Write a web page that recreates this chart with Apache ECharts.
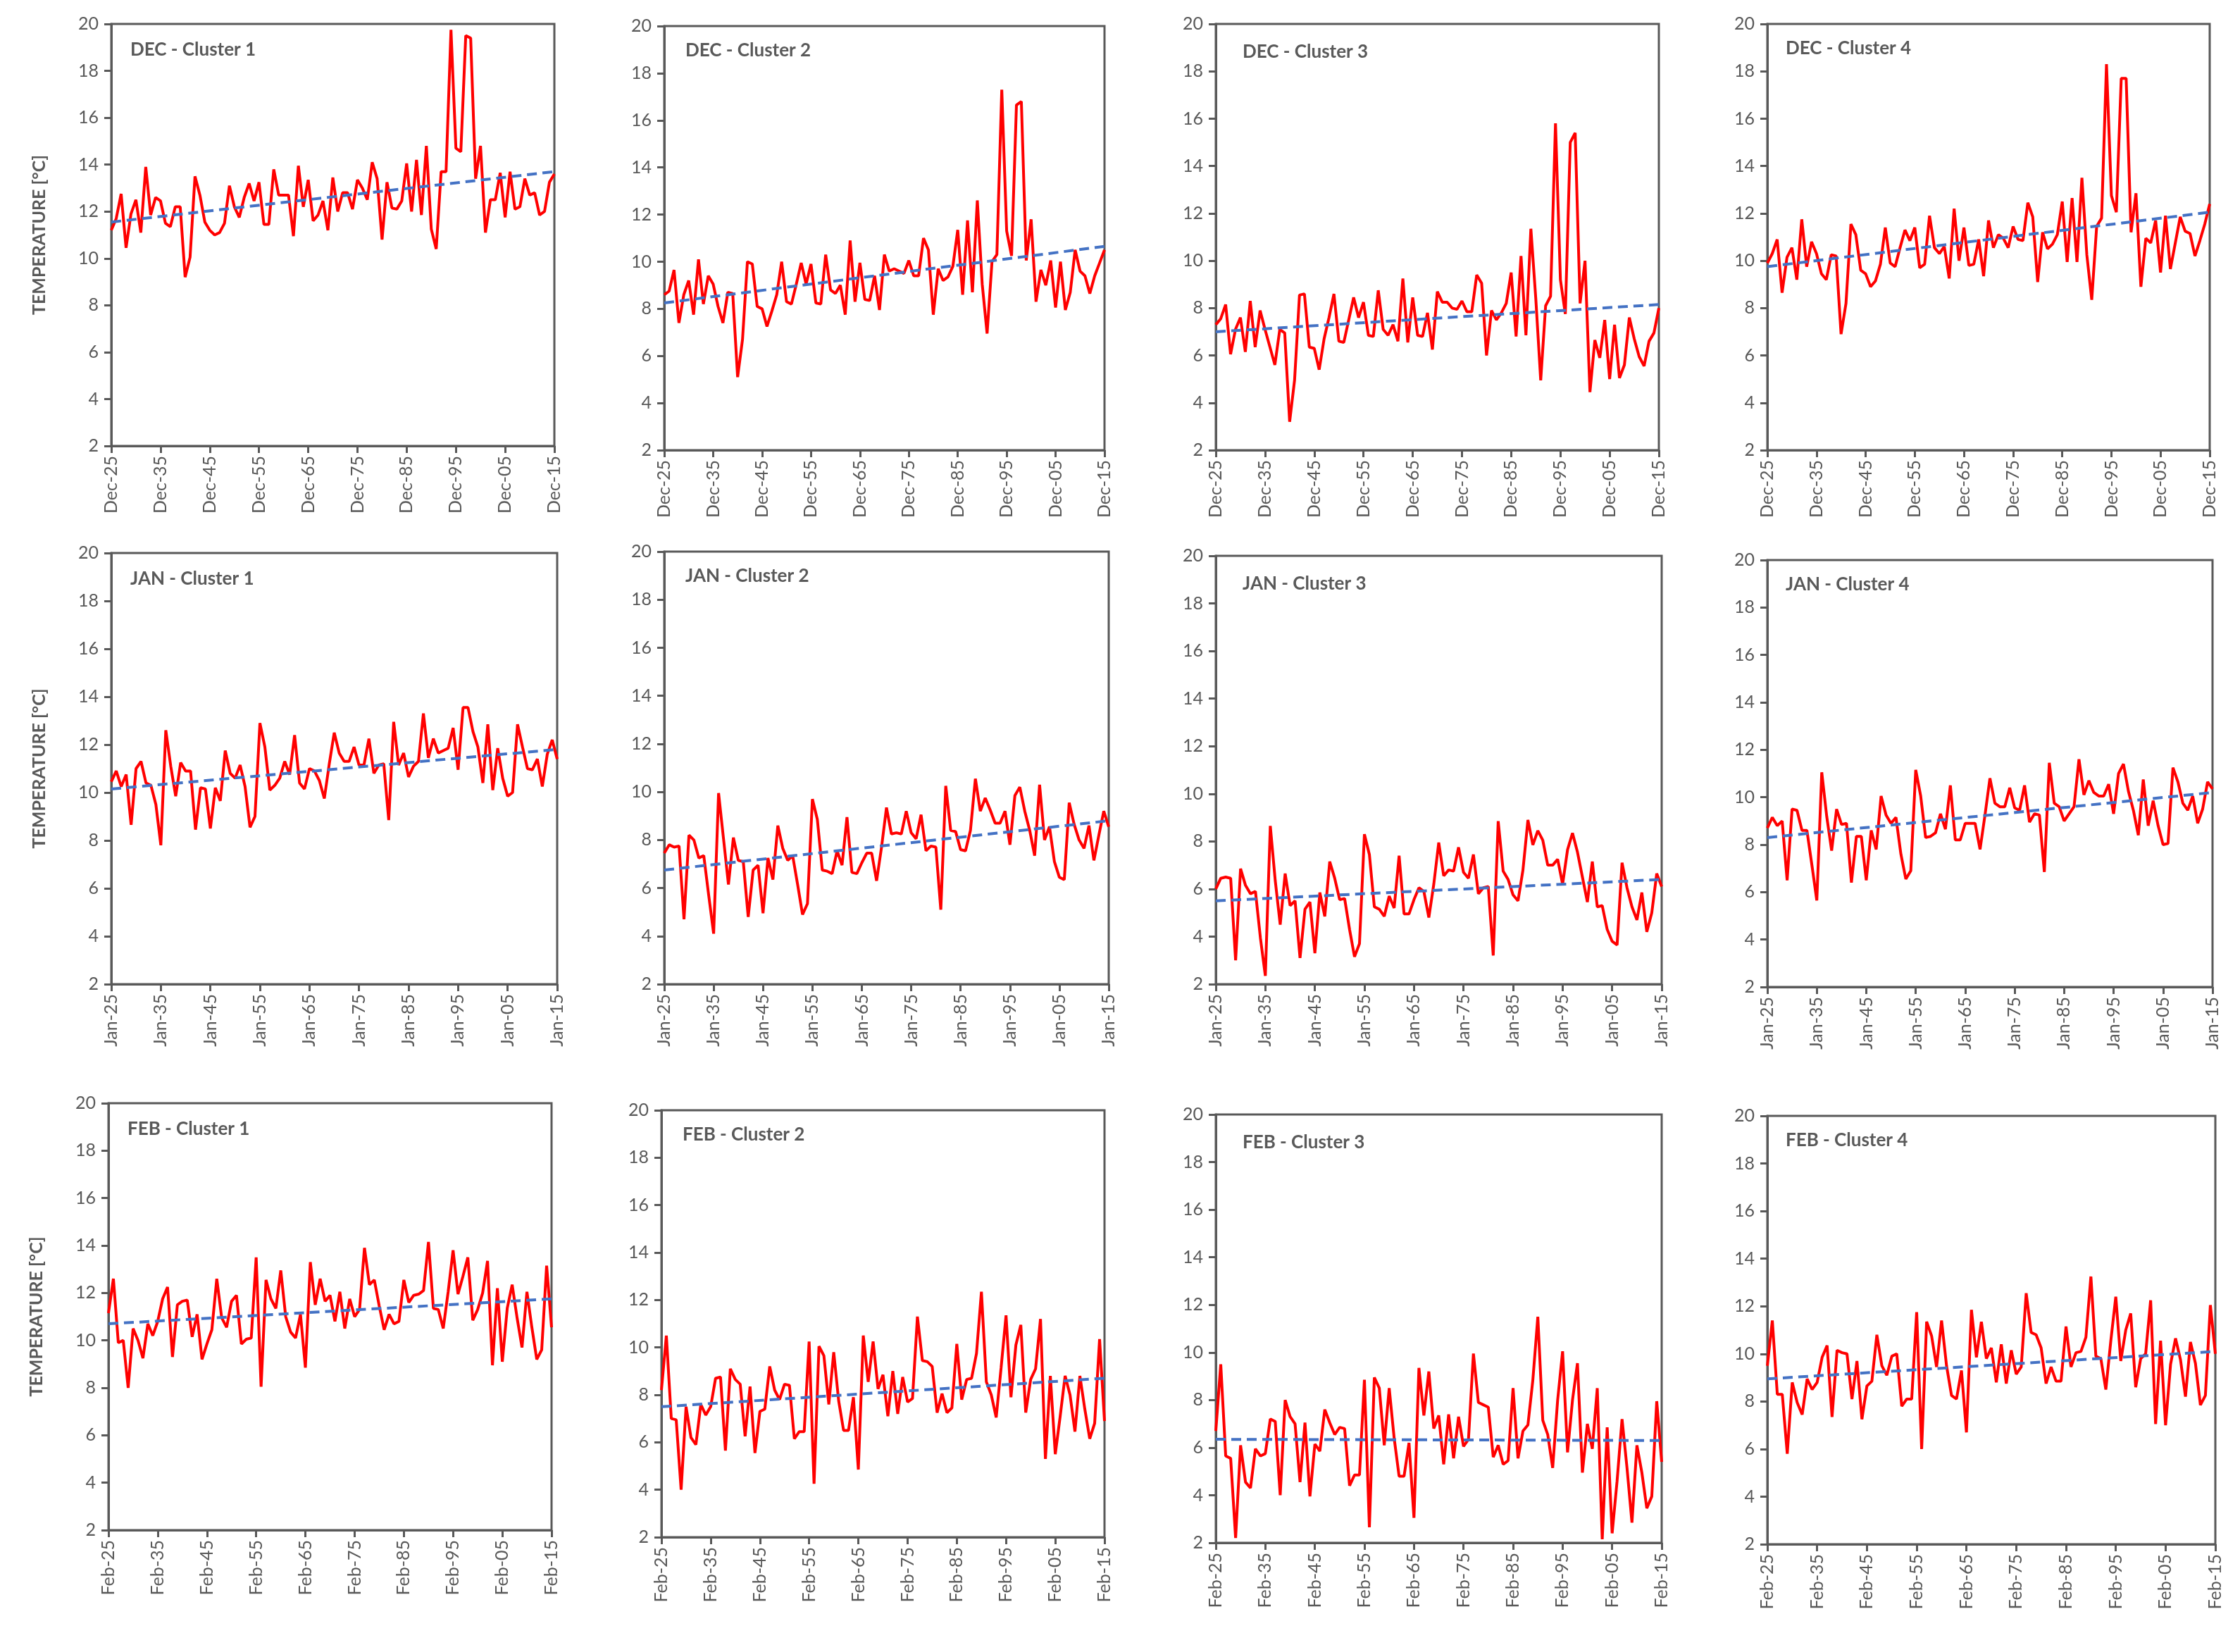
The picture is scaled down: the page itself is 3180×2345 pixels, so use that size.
<!DOCTYPE html>
<html><head><meta charset="utf-8">
<script src="https://cdn.jsdelivr.net/npm/echarts@6/dist/echarts.min.js"></script>
<style>html,body{margin:0;padding:0;background:#fff}#c{width:3180px;height:2345px}</style>
</head><body><div id="c"></div>
<script>
// ---- categories ----
const years = [1925,1926,1927,1928,1929,1930,1931,1932,1933,1934,1935,1936,1937,1938,1939,1940,1941,1942,1943,1944,1945,1946,1947,1948,1949,1950,1951,1952,1953,1954,1955,1956,1957,1958,1959,1960,1961,1962,1963,1964,1965,1966,1967,1968,1969,1970,1971,1972,1973,1974,1975,1976,1977,1978,1979,1980,1981,1982,1983,1984,1985,1986,1987,1988,1989,1990,1991,1992,1993,1994,1995,1996,1997,1998,1999,2000,2001,2002,2003,2004,2005,2006,2007,2008,2009,2010,2011,2012,2013,2014,2015];
const monthNames = ['DEC','JAN','FEB'];
const monthTicks = ['Dec','Jan','Feb'];
const clusterNames = ['Cluster 1','Cluster 2','Cluster 3','Cluster 4'];
const yTickMin = 2, yTickMax = 20, yTickStep = 2;
const yAxisTitle = 'TEMPERATURE [°C]';

// ---- series values (°C) ----
const decC1 = [11.2,11.7,12.75,10.45,11.9,12.5,11.1,13.9,11.85,12.6,12.45,11.5,11.35,12.2,12.2,9.2,10.05,13.5,12.7,11.55,11.2,11.0,11.1,11.5,13.1,12.2,11.75,12.6,13.2,12.45,13.25,11.45,11.45,13.8,12.7,12.7,12.7,10.95,13.95,12.2,13.35,11.6,11.85,12.45,11.2,13.45,12.0,12.8,12.8,12.1,13.35,13.0,12.5,14.1,13.4,10.8,13.25,12.15,12.1,12.45,14.05,12.0,14.2,11.85,14.8,11.25,10.4,13.7,13.7,19.75,14.7,14.55,19.5,19.4,13.4,14.8,11.1,12.5,12.5,13.65,11.75,13.7,12.1,12.2,13.4,12.7,12.8,11.85,12.0,13.25,13.6];
const decC2 = [8.6,8.75,9.65,7.4,8.6,9.2,7.75,10.1,8.2,9.4,9.05,8.1,7.4,8.7,8.65,5.1,6.7,10.0,9.9,8.1,8.0,7.25,7.9,8.6,10.0,8.3,8.2,9.05,9.95,9.05,9.9,8.25,8.2,10.3,8.8,8.65,9.0,7.75,10.9,8.3,9.95,8.4,8.35,9.4,7.95,10.3,9.6,9.7,9.6,9.5,10.05,9.4,9.4,11.0,10.5,7.75,9.7,9.2,9.35,9.8,11.35,8.6,11.75,8.7,12.6,9.05,6.95,10.0,10.3,17.3,11.3,10.25,16.65,16.8,10.05,11.8,8.3,9.65,9.0,10.05,8.05,10.0,7.95,8.7,10.5,9.6,9.4,8.65,9.4,9.95,10.5];
const decC3 = [7.3,7.55,8.15,6.05,7.1,7.6,6.15,8.3,6.35,7.9,7.1,6.35,5.6,7.1,6.95,3.2,4.95,8.55,8.6,6.35,6.3,5.4,6.7,7.6,8.6,6.6,6.55,7.5,8.45,7.6,8.25,6.85,6.8,8.75,7.1,6.85,7.3,6.6,9.25,6.55,8.45,6.85,6.8,7.8,6.25,8.7,8.25,8.25,8.0,7.95,8.3,7.85,7.85,9.4,9.05,6.0,7.9,7.5,7.8,8.2,9.5,6.8,10.2,6.85,11.35,8.4,4.95,8.1,8.5,15.8,9.2,7.75,15.0,15.4,8.2,10.0,4.45,6.65,5.9,7.5,5.0,7.3,5.05,5.6,7.6,6.7,5.95,5.55,6.6,6.95,8.0];
const decC4 = [9.9,10.3,10.9,8.65,10.15,10.55,9.2,11.75,9.75,10.8,10.3,9.45,9.2,10.25,10.2,6.9,8.2,11.55,11.1,9.6,9.45,8.9,9.15,9.85,11.4,9.9,9.75,10.55,11.3,10.85,11.4,9.7,9.85,11.9,10.55,10.3,10.6,9.25,12.2,10.0,11.4,9.8,9.85,10.9,9.35,11.7,10.55,11.1,10.95,10.55,11.45,10.9,10.85,12.45,11.85,9.1,11.2,10.5,10.7,11.1,12.5,9.95,12.65,9.95,13.5,10.25,8.35,11.45,11.8,18.3,12.75,12.05,17.7,17.7,11.2,12.85,8.9,10.95,10.75,11.7,9.5,11.9,9.65,10.75,11.85,11.25,11.15,10.2,10.85,11.55,12.4];
const janC1 = [10.45,10.9,10.25,10.75,8.65,11.0,11.3,10.4,10.3,9.5,7.8,12.6,11.1,9.85,11.25,10.9,10.9,8.45,10.2,10.15,8.5,10.2,9.65,11.75,10.8,10.6,11.15,10.25,8.55,9.0,12.9,11.9,10.1,10.3,10.6,11.3,10.75,12.4,10.4,10.15,11.0,10.9,10.5,9.75,11.2,12.5,11.65,11.3,11.3,11.9,11.15,11.15,12.25,10.8,11.15,11.2,8.85,12.95,11.15,11.65,10.65,11.1,11.3,13.3,11.45,12.25,11.65,11.75,11.85,12.7,10.95,13.55,13.55,12.55,11.9,10.4,12.85,10.1,11.85,10.6,9.85,10.0,12.85,11.9,11.0,10.95,11.4,10.25,11.6,12.2,11.4];
const janC2 = [7.45,7.8,7.7,7.75,4.7,8.2,8.0,7.25,7.35,5.7,4.1,9.95,8.05,6.15,8.1,7.15,7.1,4.8,6.75,6.95,4.95,7.25,6.35,8.6,7.65,7.15,7.35,6.15,4.9,5.35,9.7,8.85,6.75,6.7,6.6,7.55,6.95,8.95,6.65,6.6,7.05,7.45,7.45,6.3,7.7,9.35,8.25,8.3,8.25,9.2,8.3,8.05,9.05,7.55,7.75,7.7,5.1,10.25,8.4,8.35,7.6,7.55,8.4,10.55,9.2,9.75,9.25,8.7,8.7,9.2,7.8,9.85,10.2,9.2,8.4,7.35,10.3,8.0,8.55,7.1,6.45,6.35,9.55,8.65,8.0,7.65,8.6,7.15,8.2,9.2,8.55];
const janC3 = [6.0,6.45,6.5,6.45,3.0,6.85,6.15,5.8,5.9,3.95,2.35,8.65,6.35,4.5,6.65,5.3,5.5,3.1,5.15,5.45,3.3,5.85,4.85,7.15,6.45,5.55,5.6,4.3,3.15,3.7,8.3,7.45,5.25,5.15,4.85,5.7,5.2,7.4,4.95,4.95,5.55,6.05,5.9,4.8,6.2,7.95,6.55,6.8,6.75,7.75,6.7,6.45,7.45,5.8,6.05,6.1,3.2,8.85,6.75,6.4,5.75,5.5,6.8,8.9,7.85,8.45,8.05,7.0,7.0,7.25,6.2,7.65,8.35,7.55,6.5,5.45,7.15,5.25,5.3,4.3,3.8,3.65,7.1,6.05,5.25,4.7,5.85,4.2,5.0,6.65,6.1];
const janC4 = [8.7,9.15,8.8,9.0,6.5,9.5,9.45,8.6,8.6,7.15,5.65,11.05,9.2,7.75,9.5,8.85,8.9,6.4,8.35,8.35,6.5,8.6,7.8,10.05,9.25,8.9,9.15,7.6,6.55,6.9,11.15,10.05,8.3,8.35,8.5,9.3,8.65,10.5,8.2,8.2,8.9,8.9,8.9,7.8,9.25,10.8,9.75,9.6,9.6,10.4,9.55,9.45,10.5,8.95,9.3,9.25,6.85,11.45,9.75,9.6,9.0,9.3,9.6,11.6,10.1,10.7,10.2,10.05,10.05,10.55,9.3,11.0,11.4,10.25,9.45,8.4,10.75,8.8,9.85,8.8,8.0,8.05,11.25,10.65,9.75,9.45,10.05,8.9,9.5,10.65,10.35];
const febC1 = [11.15,12.6,9.9,10.0,8.0,10.5,10.0,9.25,10.7,10.2,10.8,11.75,12.25,9.3,11.5,11.65,11.7,10.15,11.1,9.2,9.85,10.45,12.6,10.95,10.55,11.65,11.9,9.85,10.05,10.1,13.5,8.05,12.55,11.75,11.35,12.95,11.0,10.35,10.1,11.1,8.85,13.3,11.5,12.6,11.65,11.9,10.8,12.05,10.5,11.75,11.0,11.3,13.9,12.35,12.55,11.45,10.45,11.1,10.7,10.8,12.55,11.6,11.9,11.95,12.1,14.15,11.35,11.3,10.5,12.05,13.8,11.95,12.7,13.5,10.85,11.3,12.0,13.35,8.95,12.2,9.1,11.35,12.35,10.95,9.7,12.05,10.55,9.2,9.6,13.15,10.55];
const febC2 = [8.2,10.5,7.0,6.95,4.0,7.5,6.2,5.9,7.6,7.15,7.5,8.7,8.75,5.65,9.1,8.65,8.45,6.25,8.35,5.55,7.3,7.4,9.2,8.2,7.8,8.45,8.4,6.15,6.45,6.45,10.25,4.25,10.05,9.65,7.6,9.8,7.75,6.5,6.5,7.9,4.85,10.5,8.55,10.25,8.25,8.85,7.1,9.0,7.2,8.75,7.7,7.85,11.3,9.45,9.4,9.2,7.25,8.05,7.25,7.45,10.15,7.8,8.65,8.7,9.75,12.35,8.55,8.0,7.05,9.15,11.35,7.9,10.1,10.95,7.25,8.65,9.1,11.2,5.3,8.8,5.5,7.1,8.8,8.0,6.45,8.8,7.4,6.15,6.8,10.35,6.9];
const febC3 = [6.7,9.5,5.65,5.55,2.2,6.1,4.55,4.3,5.95,5.65,5.75,7.2,7.1,4.0,8.0,7.3,7.0,4.55,7.05,3.95,6.15,5.85,7.6,7.05,6.55,6.85,6.8,4.4,4.85,4.85,8.85,2.65,8.95,8.5,6.1,8.5,6.4,4.8,4.8,6.2,3.05,9.35,7.35,9.2,6.8,7.35,5.3,7.4,5.55,7.3,6.05,6.35,9.95,7.9,7.8,7.7,5.6,6.1,5.3,5.45,8.5,5.55,6.7,6.95,8.85,11.5,7.15,6.55,5.15,8.0,10.05,5.8,8.0,9.55,4.95,7.0,5.95,8.5,2.15,6.85,2.4,4.6,7.2,5.15,2.85,6.1,4.95,3.45,3.95,7.95,5.4];
const febC4 = [9.5,11.4,8.3,8.3,5.8,8.8,7.95,7.45,8.95,8.5,8.8,9.85,10.35,7.35,10.15,10.05,10.0,8.1,9.7,7.25,8.65,8.85,10.8,9.5,9.1,9.9,10.0,7.8,8.1,8.1,11.75,6.0,11.35,10.75,9.45,11.4,9.5,8.25,8.1,9.3,6.7,11.85,9.85,11.35,9.8,10.25,8.8,10.4,8.75,10.15,9.15,9.45,12.55,10.9,10.8,10.25,8.75,9.45,8.85,8.85,11.15,9.45,10.05,10.1,10.7,13.25,9.9,9.8,8.5,10.55,12.4,9.7,11.0,11.7,8.6,9.8,10.0,12.25,7.05,10.55,7.0,9.55,10.65,9.75,8.2,10.5,9.6,7.85,8.25,12.05,10.0];

// ---- linear trend end values (first year, last year) ----
const trendDec = [[11.55,13.7],[8.25,10.65],[7.0,8.15],[9.75,12.05]];
const trendJan = [[10.15,11.8],[6.75,8.8],[5.5,6.4],[8.3,10.2]];
const trendFeb = [[10.7,11.75],[7.5,8.7],[6.35,6.3],[8.95,10.1]];

const panelData = [[decC1,decC2,decC3,decC4],[janC1,janC2,janC3,janC4],[febC1,febC2,febC3,febC4]];
const panelTrend = [trendDec,trendJan,trendFeb];

// ---- layout (px) ----
const gridBoxes = [
  [[158,34,629,599],[943,37,625,602],[1726,34,629,605],[2509,34,628,605]],
  [[158,785,633,612],[943,783,631,614],[1726,789,633,608],[2509,795,632,606]],
  [[154,1566,629,606],[939,1576,629,606],[1726,1582,633,608],[2509,1584,636,608]]
];
const titleOffset = [[27,24],[30,22],[38,27],[26,22]];

const FONT = 'Lato, "Open Sans", sans-serif';
const AX = '#595959';
const chart = echarts.init(document.getElementById('c'), null, {renderer:'canvas', width:3180, height:2345});
const grid=[], xAxis=[], yAxis=[], series=[], title=[];
for (let r=0;r<3;r++){
  for (let c=0;c<4;c++){
    const i=r*4+c;
    const [l,t,w,h]=gridBoxes[r][c];
    grid.push({left:l,top:t,width:w,height:h,show:true,borderColor:AX,borderWidth:3,backgroundColor:'#fff'});
    xAxis.push({type:'category',gridIndex:i,data:years,boundaryGap:false,
      axisLine:{show:true,onZero:false,lineStyle:{color:AX,width:3}},
      axisTick:{show:true,interval:9,length:10,inside:false,lineStyle:{color:AX,width:3}},
      axisLabel:{interval:9,rotate:90,fontSize:25,color:AX,fontFamily:FONT,margin:14,
        formatter:(v)=>monthTicks[r]+'-'+String(v).slice(2)},
      splitLine:{show:false}});
    yAxis.push({type:'value',gridIndex:i,min:yTickMin,max:yTickMax,interval:yTickStep,
      axisLine:{show:true,lineStyle:{color:AX,width:3}},
      axisTick:{show:true,length:10,lineStyle:{color:AX,width:3}},
      axisLabel:{fontSize:25,color:AX,fontFamily:FONT,margin:18},
      splitLine:{show:false},
      name:c===0?yAxisTitle:'',nameLocation:'middle',nameRotate:90,nameGap:90,
      nameTextStyle:{fontSize:25,fontWeight:'bold',color:AX,fontFamily:FONT}});
    series.push({type:'line',xAxisIndex:i,yAxisIndex:i,data:panelData[r][c],showSymbol:false,symbol:'none',
      lineStyle:{color:'#FF0000',width:4},z:2,animation:false});
    const tr=panelTrend[r][c];
    series.push({type:'line',xAxisIndex:i,yAxisIndex:i,data:[[0,tr[0]],[years.length-1,tr[1]]],showSymbol:false,symbol:'none',
      lineStyle:{color:'#4472C4',width:4,type:[14,8]},z:3,animation:false});
    title.push({text:monthNames[r]+' - '+clusterNames[c],left:l+titleOffset[c][0],top:t+titleOffset[c][1],padding:0,
      textStyle:{fontSize:26,fontWeight:'bold',color:AX,fontFamily:FONT}});
  }
}
chart.setOption({backgroundColor:'#fff',animation:false,grid,xAxis,yAxis,series,title});
</script></body></html>
